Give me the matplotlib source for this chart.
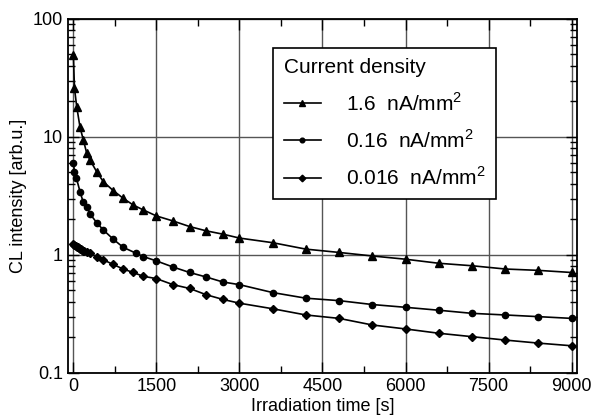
import numpy as np
import matplotlib
matplotlib.use("Agg")
import matplotlib.pyplot as plt
from matplotlib.ticker import MultipleLocator, LogLocator, NullFormatter, FixedLocator

plt.rcParams['font.family'] = ['Liberation Sans', 'DejaVu Sans']
plt.rcParams['mathtext.fontset'] = 'custom'
plt.rcParams['mathtext.rm'] = 'Liberation Sans'

# 1.6 nA/mm^2 (triangles)
t_high = [0, 20, 60, 120, 180, 240, 300, 420, 540, 720, 900, 1080, 1260,
          1500, 1800, 2100, 2400, 2700, 3000, 3600, 4200, 4800, 5400, 6000,
          6600, 7200, 7800, 8400, 9000]
cl_high = [49.5, 25.9, 18.1, 12.1, 9.43, 7.32, 6.38, 5.08, 4.18, 3.51, 3.02,
           2.65, 2.41, 2.14, 1.94, 1.74, 1.60, 1.50, 1.39, 1.27, 1.12, 1.05,
           0.98, 0.92, 0.85, 0.81, 0.76, 0.74, 0.71]

# 0.16 nA/mm^2 (circles)
t_mid = [0, 20, 55, 120, 175, 240, 300, 420, 540, 720, 900, 1140, 1260,
         1500, 1800, 2100, 2400, 2700, 3000, 3600, 4200, 4800, 5400, 6000,
         6600, 7200, 7800, 8400, 9000]
cl_mid = [6.06, 5.08, 4.47, 3.44, 2.83, 2.57, 2.23, 1.88, 1.63, 1.36, 1.16,
          1.03, 0.97, 0.89, 0.79, 0.71, 0.65, 0.59, 0.56, 0.48, 0.43, 0.41,
          0.38, 0.36, 0.34, 0.32, 0.31, 0.30, 0.29]

# 0.016 nA/mm^2 (diamonds)
t_low = [0, 20, 40, 60, 80, 100, 120, 140, 160, 180, 200, 240, 300, 420,
         540, 720, 900, 1080, 1260, 1500, 1800, 2100, 2400, 2700, 3000, 3600,
         4200, 4800, 5400, 6000, 6600, 7200, 7800, 8400, 9000]
cl_low = [1.23, 1.21, 1.19, 1.17, 1.16, 1.14, 1.13, 1.12, 1.10, 1.09, 1.08,
          1.06, 1.03, 0.97, 0.91, 0.83, 0.76, 0.71, 0.66, 0.63, 0.56, 0.52,
          0.46, 0.42, 0.39, 0.35, 0.31, 0.29, 0.255, 0.236, 0.217, 0.203,
          0.19, 0.179, 0.170]

labels = ['1.6  nA/mm$^2$', '0.16  nA/mm$^2$', '0.016  nA/mm$^2$']

fig = plt.figure(figsize=(5.95, 4.2), dpi=100)
ax = fig.add_axes([0.114, 0.112, 0.856, 0.843])

ax.plot(t_high, cl_high, '-', color='black', lw=1.2, marker='^', ms=6, label=labels[0])
ax.plot(t_mid, cl_mid, '-', color='black', lw=1.2, marker='o', ms=4.5, label=labels[1])
ax.plot(t_low, cl_low, '-', color='black', lw=1.2, marker='D', ms=4.5, label=labels[2])

ax.set_yscale('log')
ax.set_xlim(-100, 9100)
ax.set_ylim(0.1, 100)

ax.xaxis.set_major_locator(MultipleLocator(1500))
ax.xaxis.set_minor_locator(MultipleLocator(750))
ax.yaxis.set_major_locator(FixedLocator([0.1, 1, 10, 100]))
ax.yaxis.set_minor_locator(LogLocator(base=10, subs=np.arange(2, 10)))
ax.yaxis.set_minor_formatter(NullFormatter())
ax.set_yticklabels(['0.1', '1', '10', '100'])

ax.tick_params(which='both', direction='in', top=True, right=True,
               labelsize=13, colors='black', width=1)
ax.tick_params(which='major', length=8)
ax.tick_params(which='minor', length=5)

ax.grid(True, which='major', color='#555555', lw=1)
for s in ax.spines.values():
    s.set_linewidth(1.3)

ax.set_xlabel('Irradiation time [s]', fontsize=13, labelpad=2)
ax.set_ylabel('CL intensity [arb.u.]', fontsize=13, labelpad=4)

leg = ax.legend(title='Current density', loc='upper left',
                bbox_to_anchor=(0.403, 0.918), fontsize=15, title_fontsize=15,
                frameon=True, fancybox=False, edgecolor='black', framealpha=1,
                handlelength=1.8, borderpad=0.5, labelspacing=0.7,
                handletextpad=1.2, borderaxespad=0, markerscale=0.75)
leg._legend_box.align = 'left'
leg.get_frame().set_linewidth(1.2)

fig.savefig('out.png', dpi=100)
